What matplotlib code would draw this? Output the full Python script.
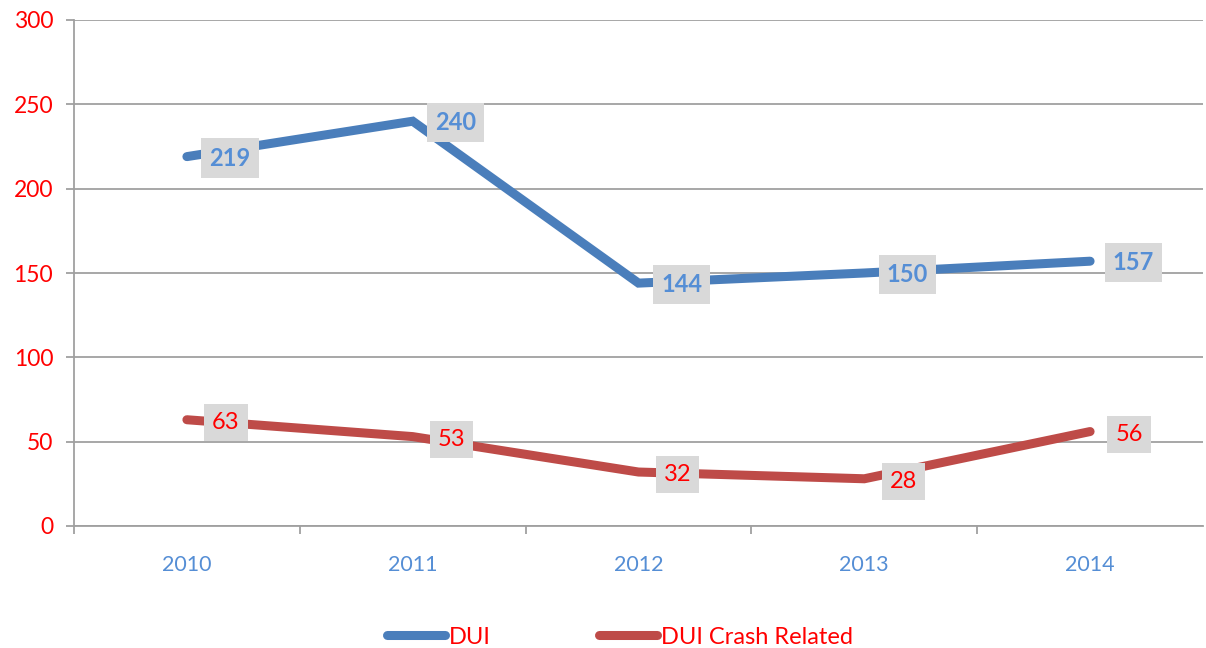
import numpy as np
import matplotlib.pyplot as plt

# data to plot
years = ['2010', '2011', '2012', '2013', '2014']
dui = [219, 240, 144, 150, 157]
dui_crash = [63, 53, 32, 28, 56]

blue = '#4A7EBB'
red = '#BE4B48'
label_blue = '#558ED5'
grid_gray = '#A0A0A0'

plt.rcParams['font.family'] = ['Lato', 'DejaVu Sans']

fig = plt.figure(figsize=(12.06, 6.48), dpi=100)
ax = fig.add_axes([74 / 1206, 1 - 526 / 648, 1129 / 1206, 506 / 648])

x = np.arange(len(years))
ax.plot(x, dui, color=blue, lw=6.5, solid_capstyle='round', solid_joinstyle='miter', label='DUI', zorder=3)
ax.plot(x, dui_crash, color=red, lw=6.5, solid_capstyle='round', solid_joinstyle='miter', label='DUI Crash Related', zorder=3)

box = dict(boxstyle='square,pad=0.34', fc='#D9D9D9', ec='none')
for xi, v in zip(x, dui):
    ax.annotate(str(v), (xi, v), xytext=(31, -1), textcoords='offset points',
                ha='center', va='center', fontsize=17, fontweight='bold',
                color=label_blue, bbox=box, zorder=4)
for xi, v in zip(x, dui_crash):
    ax.annotate(str(v), (xi, v), xytext=(28, -2), textcoords='offset points',
                ha='center', va='center', fontsize=17,
                color='red', bbox=box, zorder=4)

ax.set_xlim(-0.5, 4.5)
ax.set_ylim(0, 300)
ax.set_yticks(range(0, 301, 50))
ax.set_xticks(x)
ax.set_xticklabels(years)
ax.set_xticks(np.arange(-0.5, 4, 1), minor=True)

ax.grid(axis='y', color=grid_gray, lw=1.3)
ax.set_axisbelow(True)
for s in ['top', 'right']:
    ax.spines[s].set_visible(False)
for s in ['left', 'bottom']:
    ax.spines[s].set_color(grid_gray)
    ax.spines[s].set_linewidth(1.3)

ax.tick_params(axis='y', colors=grid_gray, labelcolor='red', labelsize=16.5, length=6, width=1.3, pad=9)
ax.tick_params(axis='x', which='major', length=0, labelcolor=label_blue, labelsize=15.5, pad=21)
ax.tick_params(axis='x', which='minor', length=6, width=1.3, color=grid_gray)

leg = fig.legend(loc='center', bbox_to_anchor=(620 / 1206, 1 - 637 / 648), ncol=2, frameon=False,
                 fontsize=17, handlelength=2.45, handletextpad=0.17, columnspacing=4.6)
for t in leg.get_texts():
    t.set_color('red')

fig.savefig('out.png', dpi=100)
